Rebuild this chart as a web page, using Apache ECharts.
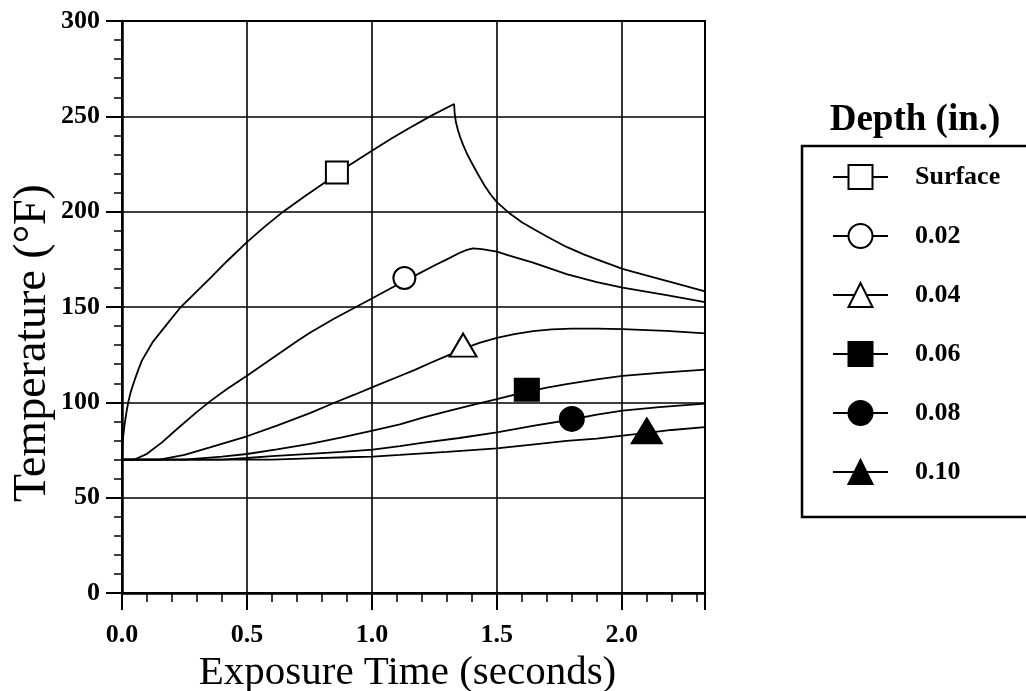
<!DOCTYPE html>
<html>
<head>
<meta charset="utf-8">
<title>Temperature vs Exposure Time</title>
<script src="https://cdn.jsdelivr.net/npm/echarts@6/dist/echarts.min.js"></script>
<style>
  html, body { margin: 0; padding: 0; background: #fff; }
  #chart { width: 1026px; height: 691px; }
</style>
</head>
<body>
<div id="chart"></div>
<script>
// depth labels (legend)
const depthNames = ['Surface', '0.02', '0.04', '0.06', '0.08', '0.10'];

// surface
const surfTime = [0, 0.003, 0.01, 0.018, 0.025, 0.035, 0.05, 0.065, 0.08, 0.125, 0.18, 0.232, 0.29, 0.352, 0.42, 0.5, 0.57, 0.645, 0.73, 0.819, 0.9, 1.0, 1.08, 1.152, 1.24, 1.329,
  1.331, 1.336, 1.344, 1.352, 1.365, 1.38, 1.4, 1.425, 1.452, 1.475, 1.5, 1.552, 1.6, 1.645, 1.7, 1.779, 1.85, 1.9, 2.003, 2.09, 2.179, 2.26, 2.333];
const surfTemp = [70, 80, 88, 95, 100, 105.5, 111.5, 117, 122, 132, 141, 149.5, 157, 165, 174, 184, 192, 200, 208, 216, 223.5, 232, 238.5, 244, 250.5, 256.5,
  252, 247, 243, 239.5, 235, 230.5, 225.5, 219.5, 213.5, 209, 205, 199, 194.5, 191, 187, 181.5, 177.5, 175, 170, 166.8, 163.7, 160.8, 158.2];

// 0.02 in.
const d02Time = [0, 0.05, 0.1, 0.16, 0.22, 0.3, 0.352, 0.42, 0.5, 0.6, 0.7, 0.752, 0.85, 0.94, 1.0, 1.1, 1.18, 1.25, 1.3, 1.35, 1.38, 1.405, 1.44, 1.5, 1.55, 1.645, 1.779, 1.9, 2.003, 2.179, 2.333];
const d02Temp = [70, 70, 73, 79, 86, 95, 100.5, 107, 114, 123, 132, 136.5, 144, 150.3, 154.5, 161.5, 167, 171.8, 175, 178.3, 180, 180.8, 180.3, 179, 177, 173.3, 167.2, 163, 160.2, 156.2, 152.5];

// 0.04 in.
const d04Time = [0, 0.15, 0.25, 0.352, 0.5, 0.62, 0.752, 0.845, 0.93, 1.003, 1.112, 1.172, 1.24, 1.3, 1.365, 1.43, 1.5, 1.57, 1.645, 1.72, 1.8, 1.9, 2.003, 2.1, 2.179, 2.333];
const d04Temp = [70, 70, 72.5, 76.4, 82.2, 87.8, 94.3, 99.5, 104, 108, 113.8, 117, 121, 124.4, 128, 131.2, 133.8, 135.8, 137.3, 138.3, 138.7, 138.7, 138.4, 137.9, 137.5, 136.2];

// 0.06 in.
const d06Time = [0, 0.25, 0.4, 0.5, 0.62, 0.752, 0.88, 1.003, 1.112, 1.2, 1.312, 1.4, 1.5, 1.6, 1.7, 1.779, 1.9, 2.003, 2.15, 2.333];
const d06Temp = [70, 70, 71.5, 72.9, 75.3, 78.2, 81.6, 85.1, 88.5, 91.8, 95.6, 98.5, 101.7, 105, 107.7, 109.6, 112, 113.9, 115.5, 117.2];

// 0.08 in.
const d08Time = [0, 0.4, 0.5, 0.6, 0.752, 0.88, 1.003, 1.112, 1.2, 1.35, 1.5, 1.65, 1.8, 1.9, 2.003, 2.15, 2.333];
const d08Temp = [70, 70, 70.8, 71.8, 73, 74, 75.2, 77, 78.7, 81.3, 84.3, 87.8, 91, 93.5, 95.6, 97.5, 99.3];

// 0.10 in.
const d10Time = [0, 0.6, 0.75, 0.9, 1.003, 1.112, 1.3, 1.5, 1.65, 1.779, 1.9, 2.003, 2.1, 2.2, 2.333];
const d10Temp = [70, 70, 70.6, 71.2, 71.5, 72.4, 74, 75.9, 78, 79.8, 81, 82.5, 84, 85.5, 87];

// one marker per curve
const markTime = [0.86, 1.13, 1.365, 1.62, 1.8, 2.1];
const markTemp = [220.5, 165.2, 130, 106.6, 91.3, 85];

const xTicks = [0, 0.5, 1.0, 1.5, 2.0];
const yTicks = [0, 50, 100, 150, 200, 250, 300];

const symbols = ['emptyRect', 'emptyCircle', 'emptyTriangle', 'rect', 'circle', 'triangle'];
const markSizes = [[22, 22], [22, 22], [27, 23], [24, 22], [24, 24], [30, 25]];

const FONT = "'Liberation Serif', 'Times New Roman', serif";

const curves = [
  [surfTime, surfTemp], [d02Time, d02Temp], [d04Time, d04Temp],
  [d06Time, d06Temp], [d08Time, d08Temp], [d10Time, d10Temp]
];

const series = curves.map((c, i) => ({
  name: depthNames[i],
  type: 'line',
  data: c[0].map((t, k) => [t, c[1][k]]),
  symbol: symbols[i],
  showSymbol: false,
  smooth: false,
  silent: true,
  animation: false,
  emphasis: { disabled: true },
  lineStyle: { color: '#000', width: 1.8 },
  itemStyle: { color: '#000', borderColor: '#000', borderWidth: 2 },
  markPoint: {
    silent: true,
    animation: false,
    symbol: symbols[i],
    symbolSize: markSizes[i],
    label: { show: false },
    itemStyle: { color: '#000', borderColor: '#000', borderWidth: 2 },
    data: [{ coord: [markTime[i], markTemp[i]] }]
  }
}));

const chart = echarts.init(document.getElementById('chart'), null, { renderer: 'canvas' });

const option = {
  backgroundColor: '#fff',
  animation: false,
  grid: {
    left: 122, right: 321, top: 21, bottom: 98,
    containLabel: false,
    outerBoundsMode: 'none',
    show: true, borderColor: '#000', borderWidth: 2, backgroundColor: 'transparent'
  },
  xAxis: {
    type: 'value',
    min: 0,
    max: 2.333,
    interval: 0.5,
    name: 'Exposure Time (seconds)',
    nameLocation: 'middle',
    nameGap: 59,
    nameTextStyle: { fontFamily: FONT, fontSize: 41, color: '#000', padding: [0, 12, 0, 0] },
    axisLine: { show: true, lineStyle: { color: '#000', width: 2.5 } },
    axisTick: { show: true, inside: false, length: 17, lineStyle: { color: '#000', width: 2 } },
    minorTick: { show: true, splitNumber: 5, length: 9, lineStyle: { color: '#000', width: 1.5 } },
    splitLine: { show: true, lineStyle: { color: '#000', width: 1.6 } },
    axisLabel: {
      showMaxLabel: false,
      margin: 29,
      fontFamily: FONT, fontSize: 26, fontWeight: 'bold', color: '#000',
      formatter: v => xTicks.includes(+v.toFixed(1)) ? v.toFixed(1) : ''
    }
  },
  yAxis: {
    type: 'value',
    min: 0,
    max: 300,
    interval: 50,
    name: 'Temperature (°F)',
    nameLocation: 'middle',
    nameRotate: 90,
    nameGap: 66,
    nameMoveOverlap: false,
    nameTextStyle: { fontFamily: FONT, fontSize: 46, color: '#000', padding: [0, 72, 0, 0] },
    axisLine: { show: true, lineStyle: { color: '#000', width: 2.5 } },
    axisTick: { show: true, inside: false, length: 16, lineStyle: { color: '#000', width: 2 } },
    minorTick: { show: true, splitNumber: 5, length: 8, lineStyle: { color: '#000', width: 1.5 } },
    splitLine: { show: true, lineStyle: { color: '#000', width: 1.6 } },
    axisLabel: {
      margin: 22,
      fontFamily: FONT, fontSize: 26, fontWeight: 'bold', color: '#000',
      formatter: v => yTicks.includes(v) ? String(v) : ''
    }
  },
  legend: {
    orient: 'vertical',
    left: 832,
    top: 164,
    itemWidth: 55,
    itemHeight: 30,
    itemGap: 33,
    padding: 0,
    selectedMode: false,
    data: depthNames,
    textStyle: { fontFamily: FONT, fontSize: 26, fontWeight: 'bold', color: '#000', padding: [0, 0, 0, 22] }
  },
  graphic: [
    {
      type: 'rect',
      silent: true,
      shape: { x: 802, y: 146, width: 400, height: 371 },
      style: { fill: 'none', stroke: '#000', lineWidth: 2.5 }
    },
    {
      type: 'text',
      silent: true,
      x: 915,
      y: 120,
      style: {
        text: 'Depth (in.)',
        fill: '#000',
        font: "bold 37px 'Liberation Serif', 'Times New Roman', serif",
        align: 'center',
        verticalAlign: 'middle'
      }
    }
  ],
  series: series
};

chart.setOption(option);
</script>
</body>
</html>
